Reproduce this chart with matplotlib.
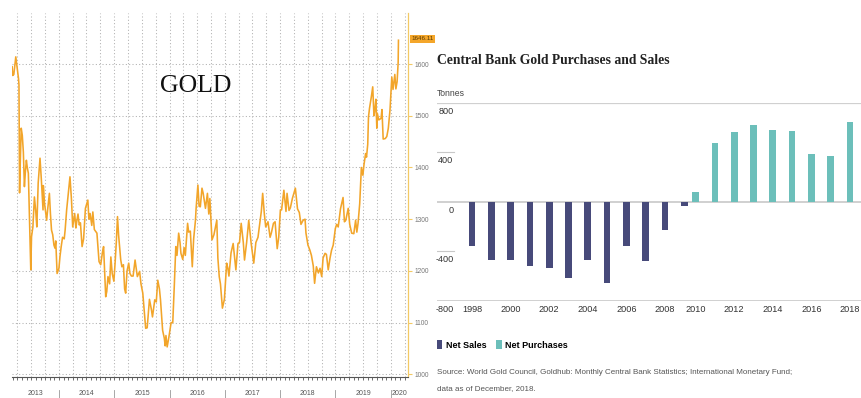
import matplotlib
matplotlib.use("Agg")
import matplotlib.pyplot as plt
import matplotlib.dates as mdates
import pandas as pd

# ---- gold spot (USD/oz), swing points of the daily series ----
gold_dates = [
    "2013-02-25", "2013-03-01", "2013-03-08", "2013-03-14", "2013-03-21", "2013-03-27",
    "2013-04-02", "2013-04-08", "2013-04-11", "2013-04-15", "2013-04-18", "2013-04-26",
    "2013-05-03", "2013-05-10", "2013-05-17", "2013-05-23", "2013-05-30", "2013-06-05",
    "2013-06-12", "2013-06-20", "2013-06-28", "2013-07-03", "2013-07-12", "2013-07-22",
    "2013-07-31", "2013-08-07", "2013-08-16", "2013-08-28", "2013-09-06", "2013-09-17",
    "2013-09-19", "2013-09-27", "2013-10-11", "2013-10-18", "2013-10-29", "2013-11-05",
    "2013-11-12", "2013-11-20", "2013-11-28", "2013-12-05", "2013-12-10", "2013-12-19",
    "2013-12-31", "2014-01-07", "2014-01-15", "2014-01-24", "2014-02-04", "2014-02-10",
    "2014-02-20", "2014-03-03", "2014-03-14", "2014-03-24", "2014-04-01", "2014-04-14",
    "2014-04-22", "2014-04-28", "2014-05-06", "2014-05-14", "2014-05-22", "2014-06-02",
    "2014-06-12", "2014-06-24", "2014-07-10", "2014-07-17", "2014-07-25", "2014-08-05",
    "2014-08-12", "2014-08-22", "2014-09-08", "2014-09-22", "2014-10-03", "2014-10-14",
    "2014-10-22", "2014-11-05", "2014-11-12", "2014-11-20", "2014-12-01", "2014-12-09",
    "2014-12-18", "2014-12-29", "2015-01-06", "2015-01-14", "2015-01-22", "2015-01-29",
    "2015-02-05", "2015-02-12", "2015-02-20", "2015-03-02", "2015-03-10", "2015-03-17",
    "2015-03-26", "2015-04-06", "2015-04-14", "2015-04-24", "2015-05-05", "2015-05-18",
    "2015-06-02", "2015-06-17", "2015-06-26", "2015-07-08", "2015-07-17", "2015-07-27",
    "2015-08-06", "2015-08-21", "2015-09-03", "2015-09-10", "2015-09-25", "2015-10-05",
    "2015-10-15", "2015-10-26", "2015-11-02", "2015-11-16", "2015-11-27", "2015-12-03",
    "2015-12-08", "2015-12-16", "2015-12-28", "2016-01-11", "2016-01-22", "2016-02-01",
    "2016-02-11", "2016-02-19", "2016-03-01", "2016-03-10", "2016-03-16", "2016-03-28",
    "2016-04-06", "2016-04-14", "2016-04-29", "2016-05-06", "2016-05-17", "2016-05-30",
    "2016-06-08", "2016-06-20", "2016-06-24", "2016-07-06", "2016-07-14", "2016-07-22",
    "2016-08-02", "2016-08-10", "2016-08-25", "2016-09-07", "2016-09-16", "2016-09-23",
    "2016-10-07", "2016-10-20", "2016-11-08", "2016-11-15", "2016-11-24", "2016-12-02",
    "2016-12-15", "2016-12-28", "2017-01-12", "2017-01-20", "2017-01-27", "2017-02-10",
    "2017-02-24", "2017-03-14", "2017-03-28", "2017-04-07", "2017-04-18", "2017-05-02",
    "2017-05-10", "2017-05-24", "2017-06-07", "2017-06-23", "2017-07-10", "2017-07-24",
    "2017-08-07", "2017-08-16", "2017-08-29", "2017-09-07", "2017-09-18", "2017-09-27",
    "2017-10-12", "2017-10-26", "2017-11-03", "2017-11-17", "2017-11-28", "2017-12-12",
    "2017-12-22", "2018-01-02", "2018-01-10", "2018-01-25", "2018-02-08", "2018-02-15",
    "2018-02-28", "2018-03-09", "2018-03-22", "2018-04-11", "2018-04-25", "2018-05-07",
    "2018-05-18", "2018-06-01", "2018-06-14", "2018-06-20", "2018-07-03", "2018-07-16",
    "2018-07-26", "2018-08-07", "2018-08-16", "2018-08-28", "2018-09-10", "2018-09-21",
    "2018-10-02", "2018-10-11", "2018-10-24", "2018-11-02", "2018-11-14", "2018-11-26",
    "2018-12-06", "2018-12-17", "2018-12-31", "2019-01-09", "2019-01-19", "2019-02-03",
    "2019-02-20", "2019-03-01", "2019-03-10", "2019-03-26", "2019-04-05", "2019-04-18",
    "2019-05-02", "2019-05-14", "2019-05-22", "2019-05-30", "2019-06-10", "2019-06-21",
    "2019-07-01", "2019-07-08", "2019-07-19", "2019-07-25", "2019-08-02", "2019-08-07",
    "2019-08-14", "2019-08-26", "2019-09-04", "2019-09-12", "2019-09-18", "2019-09-25",
    "2019-10-01", "2019-10-04", "2019-10-14", "2019-10-29", "2019-11-04", "2019-11-12",
    "2019-11-26", "2019-12-06", "2019-12-16", "2019-12-27", "2020-01-03", "2020-01-08",
    "2020-01-16", "2020-01-28", "2020-02-04", "2020-02-12", "2020-02-19", "2020-02-21",
]
gold_prices = [
    1595, 1578, 1580, 1595, 1614, 1600,
    1586, 1572, 1560, 1351, 1392, 1476,
    1462, 1430, 1363, 1390, 1414, 1400,
    1389, 1295, 1202, 1266, 1285, 1343,
    1315, 1285, 1370, 1418, 1376, 1318,
    1365, 1330, 1298, 1320, 1350, 1310,
    1279, 1270, 1250, 1244, 1258, 1195,
    1205, 1228, 1247, 1265, 1262, 1279,
    1318, 1350, 1382, 1337, 1285, 1311,
    1283, 1296, 1310, 1289, 1293, 1247,
    1262, 1321, 1337, 1300, 1311, 1288,
    1314, 1280, 1273, 1218, 1212, 1235,
    1247, 1150, 1160, 1189, 1175, 1227,
    1195, 1180, 1215, 1255, 1305, 1270,
    1247, 1222, 1208, 1212, 1165, 1157,
    1200, 1215, 1195, 1190, 1190, 1221,
    1189, 1199, 1175, 1157, 1124, 1089,
    1090, 1145, 1125, 1111, 1144, 1140,
    1182, 1165, 1144, 1085, 1070, 1055,
    1075, 1053, 1073, 1100, 1100, 1170,
    1247, 1230, 1273, 1255, 1234, 1222,
    1245, 1230, 1292, 1275, 1277, 1208,
    1262, 1298, 1320, 1366, 1325, 1324,
    1360, 1350, 1321, 1350, 1310, 1340,
    1260, 1270, 1298, 1225, 1189, 1175,
    1128, 1145, 1215, 1205, 1190, 1235,
    1253, 1202, 1253, 1255, 1292, 1255,
    1221, 1255, 1298, 1253, 1215, 1255,
    1265, 1285, 1315, 1350, 1310, 1285,
    1295, 1265, 1273, 1292, 1295, 1243,
    1265, 1318, 1318, 1356, 1315, 1350,
    1317, 1322, 1340, 1360, 1320, 1313,
    1290, 1298, 1300, 1273, 1250, 1240,
    1230, 1210, 1176, 1208, 1196, 1205,
    1189, 1225, 1234, 1232, 1202, 1225,
    1240, 1250, 1282, 1290, 1285, 1320,
    1342, 1295, 1298, 1321, 1290, 1273,
    1272, 1298, 1275, 1292, 1330, 1400,
    1385, 1405, 1427, 1420, 1445, 1498,
    1515, 1537, 1556, 1500, 1511, 1532,
    1476, 1505, 1492, 1495, 1512, 1455,
    1456, 1460, 1476, 1511, 1550, 1575,
    1551, 1580, 1552, 1566, 1603, 1646.11,
]
gold_ticks = [1000, 1100, 1200, 1300, 1400, 1500, 1600]
gold_years = list(range(2013, 2021))

# ---- central bank net sales / purchases, tonnes ----
sales_years = list(range(1998, 2010))
net_sales = [-360, -472, -472, -517, -538, -613, -472, -658, -360, -480, -232, -32]
purchase_years = list(range(2010, 2019))
net_purchases = [75, 478, 563, 619, 579, 571, 384, 371, 646]
tonne_ticks = [800, 400, 0, -400, -800]

W, H = 861, 398
fig = plt.figure(figsize=(W / 100, H / 100), dpi=100)
fig.patch.set_facecolor("white")

sans = ["Liberation Sans", "DejaVu Sans"]
gold_color = "#f2a52a"
axis_gold = "#f3c964"

# ================= left: gold price =================
ax1 = fig.add_axes([12 / W, (H - 377) / H, 396 / W, 364 / H])
dates = pd.to_datetime(gold_dates)
ax1.plot(dates, gold_prices, color=gold_color, lw=1.15, solid_joinstyle="round")

ax1.set_xlim(pd.Timestamp("2013-02-24"), pd.Timestamp("2020-04-24"))
ax1.set_ylim(994.8, 1698.8)

ax1.xaxis.set_major_locator(mdates.MonthLocator(bymonth=[1, 4, 7, 10]))
ax1.xaxis.set_minor_locator(mdates.MonthLocator())
ax1.tick_params(axis="x", which="both", length=2, width=0.6, color="#555555",
                labelbottom=False)
ax1.grid(True, axis="both", which="major", color="#b0b0b0", lw=0.75,
         linestyle=(0, (1, 2.2)))

ax1.yaxis.tick_right()
ax1.set_yticks(gold_ticks)
ax1.set_yticklabels([str(t) for t in gold_ticks])
ax1.tick_params(axis="y", length=3, width=0.8, color=axis_gold, labelsize=4.8,
                labelcolor="#777777", pad=1.5)
for lab in ax1.get_yticklabels():
    lab.set_family(sans)

for side in ("left", "top"):
    ax1.spines[side].set_visible(False)
ax1.spines["right"].set_color(axis_gold)
ax1.spines["right"].set_linewidth(0.9)
ax1.spines["bottom"].set_color("#555555")
ax1.spines["bottom"].set_linewidth(0.8)

# year labels centred on the visible part of each year, with separators
x0, x1 = ax1.get_xlim()
xt = ax1.get_xaxis_transform()
for yr in gold_years:
    a = max(mdates.date2num(pd.Timestamp(f"{yr}-01-01")), x0)
    b = min(mdates.date2num(pd.Timestamp(f"{yr + 1}-01-01")), x1)
    ax1.text((a + b) / 2, -0.044, str(yr), transform=xt, ha="center", va="center",
             fontsize=5, color="#555555", family=sans, clip_on=False)
    sep = mdates.date2num(pd.Timestamp(f"{yr + 1}-01-01"))
    if sep < x1:
        ax1.plot([sep, sep], [-0.036, -0.06], transform=xt, color="#999999",
                 lw=0.6, clip_on=False)

# last price tag on the right axis
ax1.annotate(f"{gold_prices[-1]:.2f}", xy=(1.0, gold_prices[-1]),
             xycoords=("axes fraction", "data"), xytext=(2.5, 1),
             textcoords="offset points", ha="left", va="center", fontsize=4.5,
             color="#5a3a00", family=sans,
             bbox=dict(boxstyle="square,pad=0.25", fc="#f4a62a", ec="none"))

fig.text(196 / W, 1 - 86 / H, "GOLD", ha="center", va="center",
         fontsize=18.5, family=["Liberation Serif", "DejaVu Serif"], color="#111111")

# ================= right: central bank bars =================
px_per_year = 19.3
ax2 = fig.add_axes([437 / W, (H - 300.7) / H, 424 / W, 198 / H])
xmin = -(472 - 437) / px_per_year
ax2.set_xlim(xmin, xmin + 424 / px_per_year)
ax2.set_ylim(-800, 800)
ax2.axis("off")

shift = -8 / px_per_year
sales_x = [y - sales_years[0] for y in sales_years]
purch_x = [y - sales_years[0] + shift for y in purchase_years]
bw = 0.35
b1 = ax2.bar(sales_x, net_sales, width=bw, color="#474a7a", zorder=3)
b2 = ax2.bar(purch_x, net_purchases, width=bw, color="#6cbfba", zorder=3)

line_c = "#c8c8c8"
ax2.axhline(800, color="#d0d0d0", lw=1.6, zorder=1)
ax2.axhline(0, color=line_c, lw=1.2, zorder=2)
ax2.axhline(-800, color=line_c, lw=1.2, zorder=1)
short = 16.5 / px_per_year
for v in (400, -400):
    ax2.plot([xmin, xmin + short], [v, v], color=line_c, lw=0.8)

# tonne labels hang under their line, right-aligned to the short rules
for v in tonne_ticks:
    ax2.annotate(str(v), xy=(xmin + short, v), xytext=(0, -3),
                 textcoords="offset points", ha="right", va="top",
                 fontsize=6.6, color="#333333", family=sans)

# year labels sit under the bar of that year
pos = dict(zip(sales_years, sales_x))
pos.update(zip(purchase_years, purch_x))
for yr in range(1998, 2019, 2):
    ax2.annotate(str(yr), xy=(pos[yr], -800), xytext=(0, -3),
                 textcoords="offset points", ha="center", va="top",
                 fontsize=6.6, color="#333333", family=sans)

fig.text(437 / W, 1 - 60 / H, "Central Bank Gold Purchases and Sales",
         ha="left", va="center", fontsize=9.8, weight="bold",
         family=["Liberation Serif", "DejaVu Serif"], color="#222222")
fig.text(437 / W, 1 - 94 / H, "Tonnes", ha="left", va="center", fontsize=6.2,
         color="#444444", family=sans)

fig.legend([b1, b2], ["Net Sales", "Net Purchases"], loc="center left",
           bbox_to_anchor=(433 / W, 1 - 345 / H), ncol=2, frameon=False,
           handlelength=0.65, handleheight=1.0, handletextpad=0.35,
           columnspacing=1.1, borderaxespad=0,
           prop=dict(family=sans, weight="bold", size=6.5))

fig.text(437 / W, 1 - 373 / H,
         "Source: World Gold Council, Goldhub: Monthly Central Bank Statistics; "
         "International Monetary Fund;",
         ha="left", va="center", fontsize=5.8, color="#555555", family=sans)
fig.text(437 / W, 1 - 389 / H, "data as of December, 2018.",
         ha="left", va="center", fontsize=5.8, color="#555555", family=sans)

fig.savefig("out.png", dpi=100, facecolor="white")
